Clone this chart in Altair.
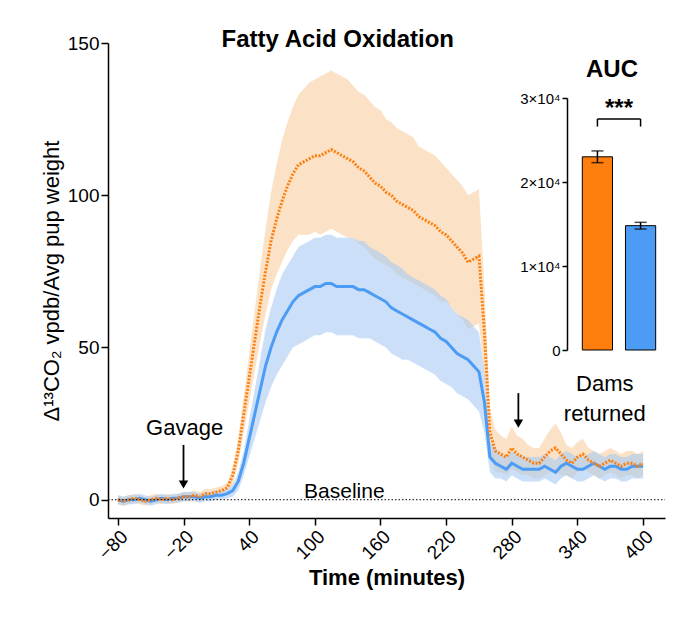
import pandas as pd
import altair as alt

FONT = "Liberation Sans"
ORANGE = "#FF7F0E"
BLUE = "#4C9BF5"

times = list(range(-80, 405, 5))

orange_mean = [0, -0.5, 0, 0.5, 0, -0.5, 0, 0.5, 0, 0.5, 0, 0.5, 1, 1, 1.5, 1, 2, 2, 2.5, 3, 4,
               8, 16, 28, 40, 52, 64, 75, 85, 92, 98, 103, 107, 110, 111, 112, 113,
               113, 114, 115, 114, 113, 112, 111, 109, 108, 106, 104, 103, 101, 100, 98, 97, 96, 95, 93, 92,
               91, 90, 88, 87, 85, 83, 81, 78, 79, 80,
               55, 22, 16, 15, 14, 17, 15, 14, 13, 12,
               12, 14, 16, 17, 15, 13, 12, 14, 15, 13, 12, 11, 12, 13, 12, 11, 12, 12, 11, 12]
orange_err = [1.5] * 21 + [3, 4, 6, 8, 10, 12, 14, 16, 18, 20, 21, 22, 23, 24, 25, 25,
               26, 26, 26, 26, 26, 26, 25, 25, 25, 25, 25, 25, 24, 24, 24, 24, 24, 24, 23, 23,
               23, 23, 23, 22, 22, 22, 22, 22, 22, 22,
               15, 8, 7, 6, 6, 7, 6, 6, 5, 5,
               5, 6, 7, 8, 7, 5, 5, 5, 5, 4, 4, 4, 4, 4, 4, 4, 4, 4, 4, 4]

blue_mean = [0, -0.5, 0, 0, 0.5, 0, -0.5, 0, 0.5, 0, 0.5, 0.5, 1, 1, 1, 0.5, 1, 1, 1.5, 1.5, 2,
             3, 6, 12, 20, 28, 36, 44, 50, 55, 59, 62, 65, 67, 68, 69, 70,
             70, 71, 71, 70, 70, 70, 70, 69, 69, 68, 67, 66, 65, 63, 62, 61, 60, 59, 58, 57,
             56, 55, 53, 52, 50, 48, 47, 46, 44, 42,
             32, 14, 12, 11, 10, 12, 11, 10, 10, 10,
             10, 11, 10, 9, 11, 12, 11, 10, 10, 11, 12, 11, 10, 11, 11, 10, 10, 11, 11, 11]
blue_err = [1.5] * 21 + [2, 3, 4, 6, 8, 10, 12, 13, 14, 15, 15, 15, 16, 16, 16, 16,
             16, 16, 16, 16, 16, 16, 16, 16, 16, 15, 15, 15, 15, 15, 15, 15, 14, 14, 14, 14,
             14, 14, 14, 14, 13, 13, 13, 13, 13, 13,
             10, 5, 5, 4, 4, 4, 4, 4, 4, 4] + [4] * 20

auc_groups = ["A", "B"]
auc_values = [23000, 14800]
auc_errors = [700, 400]

rows = []
for name, mean, err in [("orange", orange_mean, orange_err), ("blue", blue_mean, blue_err)]:
    for t, m, e in zip(times, mean, err):
        rows.append({"series": name, "t": t, "m": m, "lo": m - e, "hi": m + e})
df = pd.DataFrame(rows)
df_o = df[df.series == "orange"]
df_b = df[df.series == "blue"]

xs = alt.Scale(domain=[-89, 420], nice=False)
ys = alt.Scale(domain=[-6, 150], nice=False)


def X(field="t", axis=None):
    return alt.X(field, type="quantitative", scale=xs, axis=axis)


def Y(field, axis=None):
    return alt.Y(field, type="quantitative", scale=ys, axis=axis)


x_axis = alt.Axis(values=list(range(-80, 401, 60)), title="Time (minutes)", labelAngle=-45,
                  labelFontSize=19, titleFontSize=22, titleFontWeight="bold", labelColor="black",
                  titleColor="black", domainColor="black", tickColor="black", domainWidth=1.5,
                  tickWidth=1.5, tickSize=7, grid=False, labelFont=FONT, titleFont=FONT)
y_axis = alt.Axis(values=[0, 50, 100, 150], title="Δ¹³CO₂ vpdb/Avg pup weight",
                  labelFontSize=19, titleFontSize=22, titleFontWeight="normal", labelColor="black",
                  titleColor="black", domainColor="black", tickColor="black", domainWidth=1.5,
                  tickWidth=1.5, tickSize=7, grid=False, labelFont=FONT, titleFont=FONT)

band_o = alt.Chart(df_o).mark_area(color="#F9CFA0", opacity=0.6).encode(
    x=X(axis=x_axis), y=Y("lo", axis=y_axis), y2="hi")
band_b = alt.Chart(df_b).mark_area(color="#A9CBF3", opacity=0.6).encode(
    x=X(), y=Y("lo"), y2="hi")
line_b = alt.Chart(df_b).mark_line(color=BLUE, strokeWidth=3).encode(x=X(), y=Y("m"))
line_o = alt.Chart(df_o).mark_line(color=ORANGE, strokeWidth=3, strokeDash=[2, 1.5]).encode(
    x=X(), y=Y("m"))

base = alt.Chart(pd.DataFrame({"t": [-89], "t2": [420], "v": [0]})).mark_rule(
    color="black", strokeDash=[1.5, 2], strokeWidth=1).encode(x=X(), x2="t2", y=Y("v"))

texts = pd.DataFrame([
    {"t": 121, "v": 151, "s": "Fatty Acid Oxidation", "w": "bold", "fs": 24},
    {"t": -19, "v": 23.6, "s": "Gavage", "w": "normal", "fs": 22},
    {"t": 365, "v": 38, "s": "Dams", "w": "normal", "fs": 22},
    {"t": 365, "v": 28, "s": "returned", "w": "normal", "fs": 22},
    {"t": 127, "v": 2.5, "s": "Baseline", "w": "normal", "fs": 21},
])
text_layers = [
    alt.Chart(texts[texts.s == r["s"]]).mark_text(font=FONT, fontSize=int(r["fs"]), fontWeight=r["w"],
                                                  color="black", baseline="middle").encode(
        x=X(), y=Y("v"), text="s")
    for _, r in texts.iterrows()
]

arrows = pd.DataFrame({"t": [-20, 286], "v1": [18, 35], "v2": [5, 25]})
arrow_lines = alt.Chart(arrows).mark_rule(color="black", strokeWidth=1.8).encode(
    x=X(), y=Y("v1"), y2="v2")
arrow_heads = alt.Chart(arrows).mark_point(shape="triangle-down", filled=True, color="black",
                                           size=90, opacity=1).encode(x=X(), y=Y("v2"))

# inset AUC bar chart
auc = pd.DataFrame({"g": auc_groups, "v": auc_values, "lo": [v - e for v, e in zip(auc_values, auc_errors)],
                    "hi": [v + e for v, e in zip(auc_values, auc_errors)]})
ixs = alt.Scale(domain=auc_groups, range=[470, 552], paddingInner=0.3, paddingOuter=0.1)
iys = alt.Scale(domain=[0, 30000], range=[307, 55], nice=False)
inset_axis = alt.Axis(orient="left", offset=-459, values=[0, 10000, 20000, 30000],
                      labelExpr="datum.value == 0 ? '0' : (datum.value / 10000) + '×10⁴'",
                      title=None, labelFontSize=15, labelColor="black", domainColor="black",
                      tickColor="black", domainWidth=1.5, tickWidth=1.5, grid=False, labelFont=FONT)
bars = alt.Chart(auc).mark_bar(stroke="black", strokeWidth=1).encode(
    x=alt.X("g:N", scale=ixs, axis=None),
    y=alt.Y("v:Q", scale=iys, axis=inset_axis),
    color=alt.Color("g:N", scale=alt.Scale(domain=auc_groups, range=[ORANGE, BLUE]), legend=None))
ebars = alt.Chart(auc).mark_rule(color="black", strokeWidth=1.5).encode(
    x=alt.X("g:N", scale=ixs, axis=None), y=alt.Y("lo:Q", scale=iys, axis=None), y2="hi")
caps = alt.Chart(auc.melt(id_vars="g", value_vars=["lo", "hi"])).mark_tick(
    color="black", thickness=1.5, size=12, orient="horizontal").encode(
    x=alt.X("g:N", scale=ixs, axis=None), y=alt.Y("value:Q", scale=iys, axis=None))

brk = pd.DataFrame({"g": ["A", "B"], "v": [27500, 27500], "v2": [26600, 26600]})
brk_h = alt.Chart(pd.DataFrame({"g": ["A"], "g2": ["B"], "v": [27500]})).mark_rule(
    color="black", strokeWidth=1.5).encode(
    x=alt.X("g:N", scale=ixs, axis=None), x2="g2", y=alt.Y("v:Q", scale=iys, axis=None))
brk_v = alt.Chart(brk).mark_rule(color="black", strokeWidth=1.5).encode(
    x=alt.X("g:N", scale=ixs, axis=None), y=alt.Y("v:Q", scale=iys, axis=None), y2="v2")
stars = alt.Chart(pd.DataFrame({"s": ["***"], "v": [28700]})).mark_text(
    font=FONT, fontSize=24, fontWeight="bold", color="black", x=511, baseline="middle").encode(
    y=alt.Y("v:Q", scale=iys, axis=None), text="s")
auc_title = alt.Chart(pd.DataFrame({"s": ["AUC"], "v": [33300]})).mark_text(
    font=FONT, fontSize=24, fontWeight="bold", color="black", x=504, baseline="middle").encode(
    y=alt.Y("v:Q", scale=iys, axis=None), text="s")

chart = alt.layer(
    band_o, band_b, line_b, line_o, base, arrow_lines, arrow_heads, *text_layers,
    bars, ebars, caps, brk_h, brk_v, stars, auc_title,
).resolve_scale(x="independent", y="independent", color="independent").properties(
    width=557, height=475,
    autosize=alt.AutoSizeParams(type="none"),
    padding={"left": 100, "top": 35, "right": 5, "bottom": 110},
).configure_view(stroke=None)

chart.save("out.html", embed_options={"renderer": "svg", "actions": False})
